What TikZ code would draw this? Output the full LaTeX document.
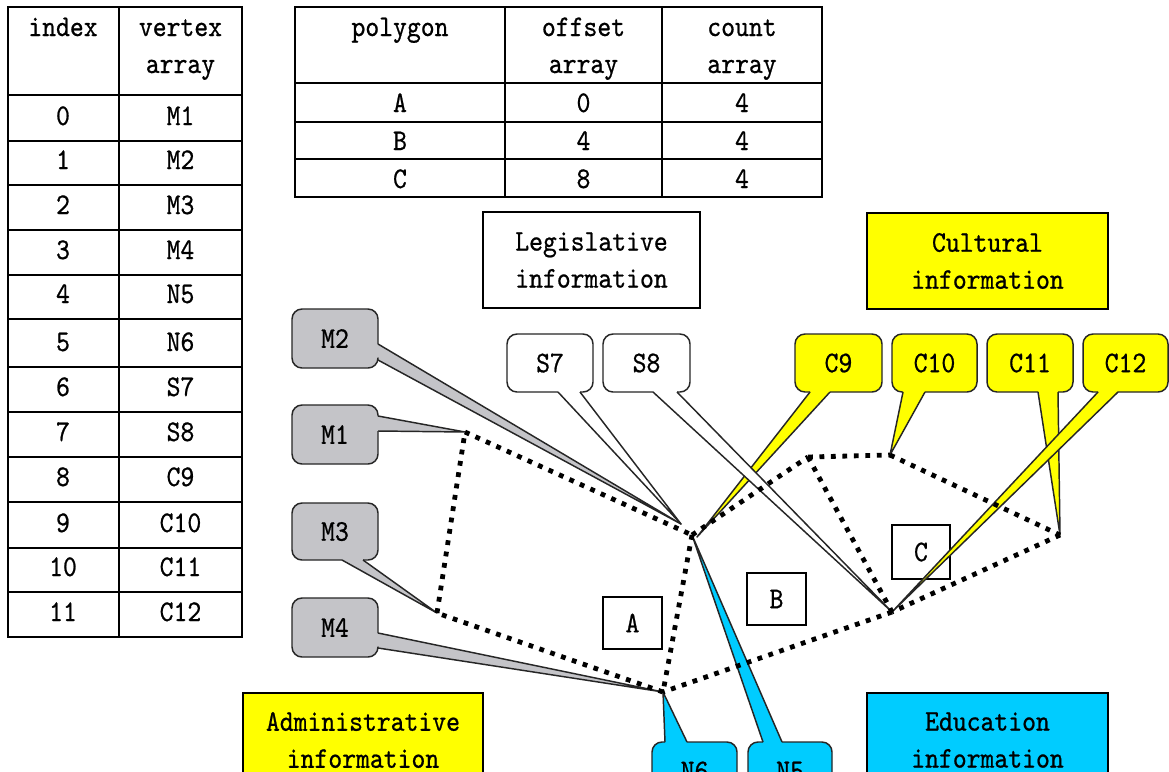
\documentclass[tikz,border=0pt]{standalone}
\usepackage{fontspec}
\newfontfamily\lmm[FakeStretch=0.88,FakeBold=0.7]{lmmono10-regular.otf}
\newcommand\dfont{\lmm\fontsize{22.5pt}{27.75pt}\selectfont}
\definecolor{cgray}{RGB}{196,196,200}
\definecolor{cyel}{RGB}{255,255,0}
\definecolor{ccyan}{RGB}{0,204,255}
\tikzset{
  txt/.style={font=\dfont,inner sep=0pt},
  tline/.style={line width=1.4pt,black},
  cbord/.style={line width=1.1pt,black!85,line join=round},
  dotline/.style={line width=3.6pt,dash pattern=on 3.6pt off 5pt,line cap=butt,black},
  lboxs/.style={line width=1.2pt,black,fill=white},
}
% callout with tail on right side: color, x1,y1,x2,y2, b1y,b2y, tip
\newcommand\coR[8]{%
  \fill[#1,rounded corners=7.5pt] (#2,#3) rectangle (#4,#5);
  \fill[#1] (#4,#6) -- (#8) -- (#4,#7) -- cycle;
  \draw[cbord,rounded corners=7.5pt] (#4,#7) -- (#4,#5) -- (#2,#5) -- (#2,#3) -- (#4,#3) -- (#4,#6);
  \draw[cbord] (#4,#6) -- (#8) -- (#4,#7);}
% tail on bottom side: color, x1,y1,x2,y2, b1x,b2x, tip
\newcommand\coB[8]{%
  \fill[#1,rounded corners=7.5pt] (#2,#3) rectangle (#4,#5);
  \fill[#1] (#6,#5) -- (#8) -- (#7,#5) -- cycle;
  \draw[cbord,rounded corners=7.5pt] (#6,#5) -- (#2,#5) -- (#2,#3) -- (#4,#3) -- (#4,#5) -- (#7,#5);
  \draw[cbord] (#6,#5) -- (#8) -- (#7,#5);}
% tail on top side
\newcommand\coT[8]{%
  \fill[#1,rounded corners=7.5pt] (#2,#3) rectangle (#4,#5);
  \fill[#1] (#6,#3) -- (#8) -- (#7,#3) -- cycle;
  \draw[cbord,rounded corners=7.5pt] (#7,#3) -- (#4,#3) -- (#4,#5) -- (#2,#5) -- (#2,#3) -- (#6,#3);
  \draw[cbord] (#6,#3) -- (#8) -- (#7,#3);}
\begin{document}
\begin{tikzpicture}[x=0.75pt,y=-0.75pt]
\useasboundingbox (0,0) rectangle (1169,771);
\clip (0,0) rectangle (1169,771);
\fill[white] (0,0) rectangle (1169,771);

% ---------- left table ----------
\draw[tline] (8,7) rectangle (242,637);
\draw[tline] (119,7) -- (119,637);
\foreach \y in {95,141,185,230,275,319,367,412,457,502,548,592}
  \draw[tline] (8,\y) -- (242,\y);
\node[txt,anchor=base] (hidx) at (63,36) {index};
\node[txt,anchor=base] (hva1) at (180.5,36) {vertex};
\node[txt,anchor=base] (hva2) at (180.5,73) {array};
\foreach \i/\v/\b in {0/M1/141,1/M2/185,2/M3/230,3/M4/275,4/N5/319,5/N6/367,6/S7/412,7/S8/457,8/C9/502,9/C10/548,10/C11/592,11/C12/637}{
  \node[txt,anchor=base] (ri\i) at (63,\b-16) {\i};
  \node[txt,anchor=base] (rv\i) at (180.5,\b-16) {\v};
}

% ---------- top table ----------
\draw[tline] (295,7) rectangle (822,197);
\draw[tline] (505,7) -- (505,197);
\draw[tline] (662,7) -- (662,197);
\foreach \y in {83,122,159} \draw[tline] (295,\y) -- (822,\y);
\node[txt,anchor=base] (hpol) at (400,36) {polygon};
\node[txt,anchor=base] (hoff1) at (583.5,36) {offset};
\node[txt,anchor=base] (hoff2) at (583.5,73) {array};
\node[txt,anchor=base] (hcnt1) at (742,36) {count};
\node[txt,anchor=base] (hcnt2) at (742,73) {array};
\foreach \p/\o/\b in {A/0/112,B/4/150,C/8/188}{
  \node[txt,anchor=base] (tp\p) at (400,\b) {\p};
  \node[txt,anchor=base] (to\p) at (583.5,\b) {\o};
  \node[txt,anchor=base] (tc\p) at (742,\b) {4};
}

% ---------- information boxes ----------
\draw[tline,line width=1.2pt,fill=white] (483,212) rectangle (700,308);
\node[txt,align=center] (legis) at (591.5,260) {Legislative\\information};
\draw[tline,line width=1.2pt,fill=cyel] (867,213) rectangle (1108,309);
\node[txt,align=center] (cult) at (987.5,261) {Cultural\\information};
\draw[tline,line width=1.2pt,fill=cyel] (243,693) rectangle (483,789);
\node[txt,align=center] (admin) at (363,740) {Administrative\\information};
\draw[tline,line width=1.2pt,fill=ccyan] (867,693) rectangle (1108,789);
\node[txt,align=center] (educ) at (987.5,740) {Education\\information};

% ---------- polygon labels ----------
\draw[lboxs] (603,597) rectangle (662,649);
\node[txt] (pA) at (632.5,623) {A};
\draw[lboxs] (747,573) rectangle (806,625);
\node[txt] (pB) at (776.5,599) {B};
\draw[lboxs] (892,525) rectangle (950,579);
\node[txt] (pC) at (921,552) {C};

% ---------- vertices ----------
\coordinate (v1) at (465,432);
\coordinate (v2) at (692,535);
\coordinate (v3) at (663,692);
\coordinate (v4) at (437,613);
\coordinate (v5) at (808,457);
\coordinate (v6) at (890,455);
\coordinate (v7) at (1060,535);
\coordinate (v8) at (892,612);
\coordinate (tms) at (681,524);
\coordinate (tc9) at (697,537);

% ---------- callouts ----------
\coR{cgray}{292}{309}{378}{368}{344}{360}{tms}
\node[txt] (cM2) at (335,338.5) {M2};
\coR{cgray}{292}{405}{378}{464}{416}{431}{v1}
\node[txt] (cM1) at (335,434.5) {M1};
\coB{cgray}{292}{503}{378}{560}{342}{363}{v4}
\node[txt] (cM3) at (335,531.5) {M3};
\coR{cgray}{292}{598}{378}{657}{633}{648}{v3}
\node[txt] (cM4) at (335,627.5) {M4};

\coB{cyel}{795}{334}{882}{392}{810}{830}{tc9}
\node[txt] (cC9) at (838.5,363) {C9};
\coB{white}{507}{334}{593}{392}{558}{580}{tms}
\node[txt] (cS7) at (550,363) {S7};
\coB{white}{603}{334}{690}{392}{653}{677}{v8}
\node[txt] (cS8) at (646.5,363) {S8};
\coB{cyel}{892}{334}{977}{392}{903}{925}{v6}
\node[txt] (cC10) at (934.5,363) {C10};
\coB{cyel}{987}{334}{1073}{392}{1038}{1058}{v7}
\node[txt] (cC11) at (1030,363) {C11};
\coB{cyel}{1083}{334}{1168}{392}{1098}{1118}{v8}
\node[txt] (cC12) at (1125.5,363) {C12};

\coT{ccyan}{652}{742}{737}{800}{665}{687}{v3}
\node[txt] (cN6) at (694.5,771) {N6};
\coT{ccyan}{748}{742}{832}{800}{763}{782}{v2}
\node[txt] (cN5) at (790,771) {N5};

% ---------- dotted polygon edges ----------
\draw[dotline] (v1) -- (v2);
\draw[dotline] (v2) -- (v3);
\draw[dotline] (v3) -- (v4);
\draw[dotline] (v4) -- (v1);
\draw[dotline] (v2) -- (v5);
\draw[dotline] (v5) -- (v8);
\draw[dotline] (v8) -- (v3);
\draw[dotline] (v5) -- (v6);
\draw[dotline] (v6) -- (v7);
\draw[dotline] (v7) -- (v8);
\end{tikzpicture}
\end{document}
